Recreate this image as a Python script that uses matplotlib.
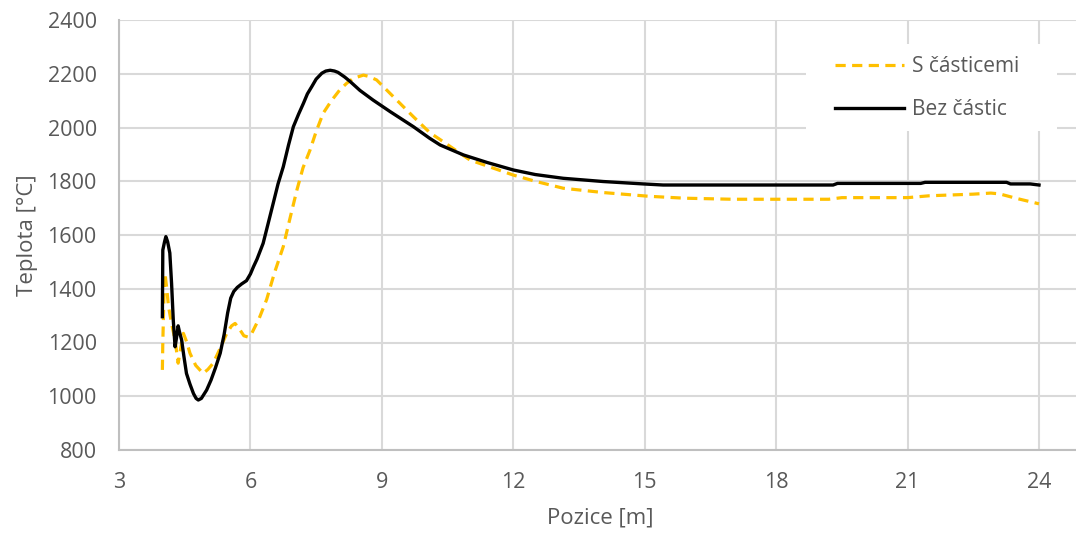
import matplotlib
matplotlib.use("Agg")
import matplotlib.pyplot as plt
from matplotlib.patches import Rectangle

# ---- data ----
x_bez = [3.99, 4.00, 4.04, 4.07, 4.11, 4.16, 4.20, 4.24, 4.28, 4.31, 4.35, 4.38, 4.43, 4.48,
         4.54, 4.62, 4.70, 4.76, 4.81, 4.88, 5.00, 5.10, 5.20, 5.31, 5.40, 5.48, 5.55, 5.62,
         5.70, 5.80, 5.91, 6.00, 6.07, 6.15, 6.29, 6.40, 6.52, 6.63, 6.75, 6.87, 6.98, 7.10,
         7.21, 7.30, 7.40, 7.50, 7.63, 7.72, 7.82, 7.92, 8.00, 8.15, 8.27, 8.50, 8.80, 9.19,
         9.72, 10.09, 10.33, 10.86, 11.40, 12.00, 12.50, 13.14, 14.05, 14.97, 15.42, 17.17,
         19.30, 19.40, 21.30, 21.40, 23.26, 23.35, 23.80, 24.00]
y_bez = [1296, 1544, 1575, 1594, 1575, 1533, 1420, 1280, 1184, 1215, 1262, 1240, 1209, 1150,
         1085, 1045, 1010, 992, 986, 992, 1023, 1060, 1105, 1160, 1230, 1310, 1365, 1390,
         1405, 1418, 1430, 1455, 1482, 1510, 1569, 1640, 1718, 1790, 1854, 1935, 2003, 2050,
         2090, 2125, 2152, 2180, 2202, 2210, 2213, 2210, 2205, 2188, 2172, 2138, 2102, 2059,
         2003, 1960, 1935, 1898, 1870, 1842, 1825, 1811, 1799, 1790, 1786, 1786,
         1786, 1792, 1792, 1796, 1796, 1790, 1790, 1786]

x_s = [3.99, 4.00, 4.03, 4.05, 4.09, 4.13, 4.20, 4.28, 4.35, 4.40, 4.47, 4.55, 4.62, 4.75,
       4.92, 5.03, 5.15, 5.30, 5.46, 5.57, 5.65, 5.75, 5.85, 5.95, 6.03, 6.20, 6.37, 6.55,
       6.75, 6.90, 7.06, 7.20, 7.36, 7.50, 7.66, 7.85, 8.04, 8.20, 8.35, 8.58, 8.70, 8.88,
       9.26, 9.72, 10.10, 10.33, 11.01, 12.00, 12.50, 13.14, 14.05, 15.10, 15.90, 17.00,
       19.20, 19.50, 21.00, 21.50, 22.50, 22.90, 23.10, 23.49, 23.95, 24.00]
y_s = [1098, 1200, 1400, 1457, 1400, 1334, 1270, 1209, 1123, 1170, 1234, 1200, 1160, 1115,
       1085, 1100, 1123, 1175, 1234, 1262, 1271, 1250, 1225, 1220, 1234, 1290, 1360, 1460,
       1557, 1660, 1767, 1850, 1916, 1985, 2053, 2100, 2140, 2165, 2183, 2195, 2190, 2177,
       2115, 2040, 1980, 1955, 1879, 1823, 1800, 1774, 1758, 1744, 1737, 1733,
       1733, 1739, 1739, 1746, 1752, 1756, 1753, 1736, 1718, 1716]

x_ticks = [3, 6, 9, 12, 15, 18, 21, 24]
y_ticks = [800, 1000, 1200, 1400, 1600, 1800, 2000, 2200, 2400]
label_s = "S částicemi"
label_bez = "Bez částic"
x_label = "Pozice [m]"
y_label = "Teplota [°C]"

# ---- style ----
W, H = 1076, 533
plt.rcParams['font.family'] = ['Open Sans', 'DejaVu Sans']
txt = '#595959'
grid_c = '#D9D9D9'
fs = 15.5

fig = plt.figure(figsize=(W / 100, H / 100), dpi=100)
ax = fig.add_axes([119 / W, 1 - 450 / H, (W - 119) / W, (450 - 20) / H])

ax.plot(x_s, y_s, color='#FFC000', lw=2.3, linestyle=(0, (3.2, 2.0)), label=label_s, zorder=3)
ax.plot(x_bez, y_bez, color='black', lw=2.4, label=label_bez, zorder=4)

ax.set_xlim(3, 3 + (W - 119) / (920 / 21))
ax.set_ylim(800, 2400)
ax.set_xticks(x_ticks)
ax.set_yticks(y_ticks)
ax.grid(True, color=grid_c, lw=1.5)
ax.set_axisbelow(True)
for s in ['top', 'right']:
    ax.spines[s].set_visible(False)
for s in ['left', 'bottom']:
    ax.spines[s].set_color('#BFBFBF')
    ax.spines[s].set_linewidth(1.5)
ax.tick_params(length=0, labelsize=fs, labelcolor=txt)
ax.tick_params(axis='x', pad=16)
ax.tick_params(axis='y', pad=16)
ax.set_xlabel(x_label, fontsize=16, color=txt)
ax.set_ylabel(y_label, fontsize=16, color=txt)
ax.xaxis.label.set_va('center')
ax.yaxis.label.set_va('center')
ax.xaxis.set_label_coords((600 - 119) / (W - 119), -(518 - 450) / 430)
ax.yaxis.set_label_coords(-(119 - 27) / (W - 119), 0.5)

# legend background
ax.add_patch(Rectangle((806 / W, 1 - 131 / H), (1057 - 806) / W, (131 - 44) / H,
                       transform=fig.transFigure, facecolor='white', edgecolor='none',
                       zorder=1.5, clip_on=False))
leg = ax.legend(loc='center left', bbox_to_anchor=(835 / W, 1 - 88 / H),
                bbox_transform=fig.transFigure, frameon=False, fontsize=15,
                handlelength=3.3, handletextpad=0.4, labelspacing=1.05,
                borderpad=0, borderaxespad=0)
for t in leg.get_texts():
    t.set_color(txt)
leg.set_zorder(10)

fig.savefig('out.png', dpi=100)
